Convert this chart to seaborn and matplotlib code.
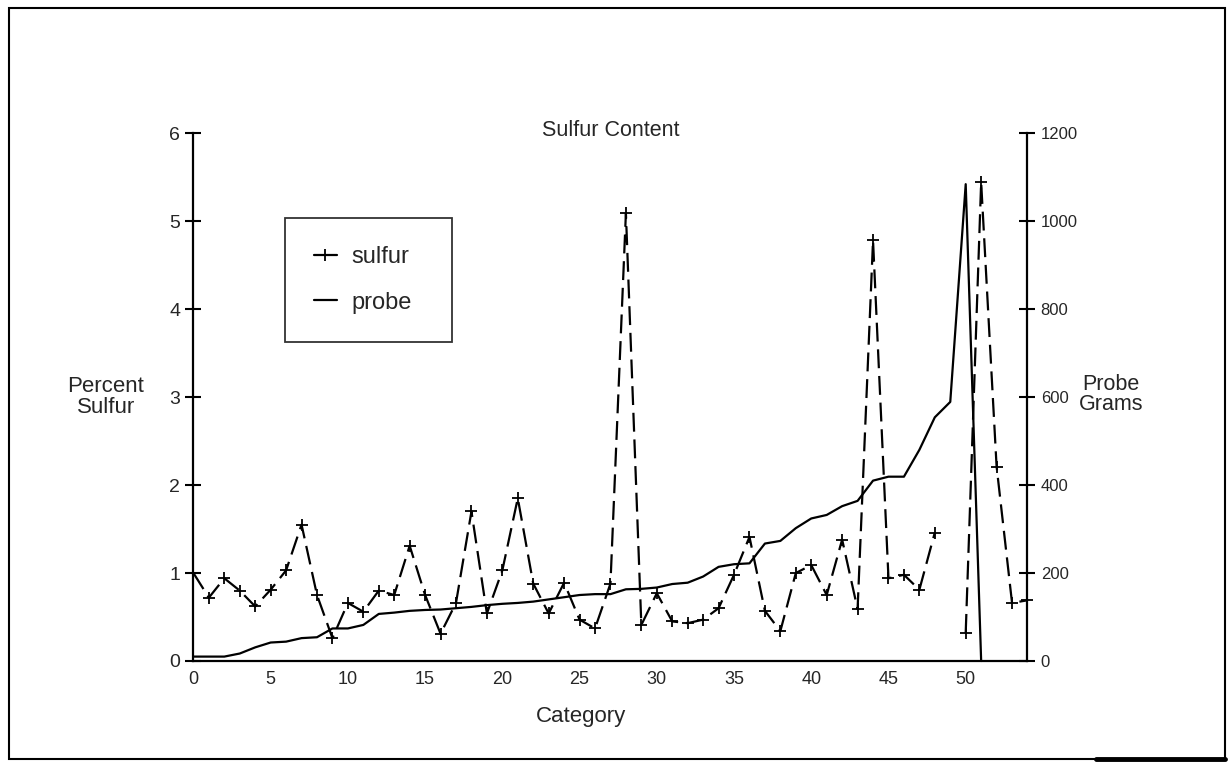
#---------------importing the libraries
import numpy as np
import pandas as pd
import matplotlib
matplotlib.use("Agg")
import matplotlib.pyplot as plt
import seaborn as sns
from matplotlib.patches import Rectangle
from matplotlib.lines import Line2D

#---------------chart data
category = list(range(55))

sulfur = [1.00, 0.72, 0.94, 0.80, 0.62, 0.81, 1.03, 1.55, 0.75, 0.26,
          0.66, 0.56, 0.80, 0.75, 1.31, 0.75, 0.31, 0.66, 1.70, 0.54,
          1.03, 1.85, 0.88, 0.54, 0.89, 0.47, 0.37, 0.88, 5.09, 0.41,
          0.77, 0.45, 0.43, 0.47, 0.60, 0.98, 1.41, 0.57, 0.34, 1.00,
          1.09, 0.75, 1.38, 0.59, 4.78, 0.94, 0.98, 0.81, 1.46, np.nan,
          0.32, 5.44, 2.21, 0.66, 0.69]

probe = [10, 10, 10, 17, 31, 42, 44, 52, 54, 74,
         74, 82, 107, 110, 114, 116, 117, 120, 123, 127,
         130, 132, 135, 140, 145, 150, 152, 152, 163, 164,
         167, 175, 178, 192, 214, 220, 222, 267, 273, 302,
         324, 332, 352, 364, 410, 419, 419, 480, 554, 589,
         1084, 0]

x_major = [0, 5, 10, 15, 20, 25, 30, 35, 40, 45, 50]
left_ticks = [0, 1, 2, 3, 4, 5, 6]
right_ticks = [0, 200, 400, 600, 800, 1000, 1200]

#---------------tables for seaborn
df_s = pd.DataFrame({"category": category, "sulfur": sulfur})
# split the sulfur series where a value is missing, so the line breaks there
df_s["segment"] = df_s["sulfur"].isna().cumsum()
df_s = df_s.dropna()
df_p = pd.DataFrame({"category": category[:len(probe)], "probe": probe})

#---------------style
sns.set_style("white")
plt.rcParams["font.family"] = ["Liberation Sans", "DejaVu Sans"]

fig = plt.figure(figsize=(12.32, 7.74), dpi=100)
ax = fig.add_axes([0.157, 0.146, 0.677, 0.682])
ax2 = ax.twinx()

ink = "black"

#---------------sulfur (dashed with + markers)
sns.lineplot(data=df_s, x="category", y="sulfur", units="segment", estimator=None,
             ax=ax, color=ink, lw=1.6, linestyle=(0, (8.5, 3.5)),
             marker="+", markersize=9, markeredgewidth=1.3, markeredgecolor=ink,
             clip_on=False, legend=False)

#---------------probe (solid)
sns.lineplot(data=df_p, x="category", y="probe", ax=ax2, color=ink, lw=1.6,
             clip_on=False, legend=False)

#---------------axes
ax.set_xlim(0, 54)
ax.set_ylim(0, 6)
ax2.set_ylim(0, 1200)

ax.set_xticks(category)
ax.set_xticklabels([str(c) if c in x_major else "" for c in category], fontsize=13)
ax.set_yticks(left_ticks)
ax.set_yticklabels([str(t) for t in left_ticks], fontsize=14)
ax2.set_yticks(right_ticks)
ax2.set_yticklabels([str(t) for t in right_ticks], fontsize=12)

for a in (ax, ax2):
    a.tick_params(direction="inout", length=11, width=1.5, color=ink, pad=4)
    for side in ("left", "right", "bottom"):
        a.spines[side].set_linewidth(1.6)
        a.spines[side].set_color(ink)
    a.spines["top"].set_visible(False)
    a.set_xlabel("")
    a.set_ylabel("")
ax.tick_params(axis="x", pad=2)
ax.spines["right"].set_visible(False)
ax2.spines["left"].set_visible(False)
ax2.spines["bottom"].set_visible(False)

# title sits level with the top tick labels
ax.text(0.5, 1.005, "Sulfur Content", transform=ax.transAxes, fontsize=15.5,
        ha="center", va="center")
ax.set_xlabel("Category", fontsize=16, labelpad=2)
ax.xaxis.set_label_coords(0.465, -0.085)
ax.text(-0.105, 0.5, "Percent\nSulfur", transform=ax.transAxes, fontsize=16,
        ha="center", va="center", linespacing=0.95)
ax2.text(1.1, 0.505, "Probe\nGrams", transform=ax2.transAxes, fontsize=15.5,
         ha="center", va="center", linespacing=0.95)

#---------------legend
h1 = Line2D([], [], color=ink, lw=1.6, marker="+", markersize=9, markeredgewidth=1.3)
h2 = Line2D([], [], color=ink, lw=1.6)
leg = ax.legend([h1, h2], ["sulfur", "probe"], loc="upper left",
                bbox_to_anchor=(0.11, 0.84, 0.2, 0.0), mode="expand",
                fontsize=17, frameon=True, fancybox=False, edgecolor=ink,
                handlelength=1.0, handletextpad=0.6, borderpad=1.2,
                labelspacing=1.0, borderaxespad=0)
leg.get_frame().set_linewidth(1.3)
leg.set_zorder(5)

#---------------outer frame of the page
fig.patches.append(Rectangle((0.007, 0.02), 0.987, 0.97, transform=fig.transFigure,
                             fill=False, edgecolor=ink, lw=1.5))
fig.add_artist(Line2D([0.89, 0.994], [0.02, 0.02], transform=fig.transFigure,
                      color=ink, lw=3.5))

fig.savefig("out.png", dpi=100)
